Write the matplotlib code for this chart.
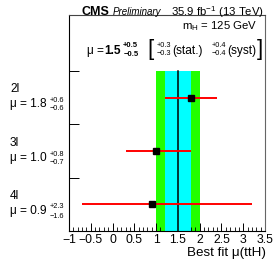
import matplotlib
matplotlib.use("Agg")
import matplotlib.pyplot as plt
from matplotlib.ticker import MultipleLocator

plt.rcParams['font.family'] = ['Liberation Sans', 'DejaVu Sans']
plt.rcParams['mathtext.fontset'] = 'custom'
plt.rcParams['mathtext.rm'] = 'Liberation Sans'
plt.rcParams['mathtext.it'] = 'Liberation Sans:italic'
plt.rcParams['mathtext.bf'] = 'Liberation Sans:bold'

# Data
categories = ["2l", "3l", "4l"]
mu_values = [1.8, 1.0, 0.9]
err_up = [0.6, 0.8, 2.3]
err_down = [0.6, 0.7, 1.6]
row_pos = [2.5, 1.5, 0.5]
combined_mu = 1.5
total_up, total_down = 0.5, 0.5
stat_up, stat_down = 0.3, 0.3
syst_up, syst_down = 0.4, 0.4
xticks = [-1, -0.5, 0, 0.5, 1, 1.5, 2, 2.5, 3, 3.5]
xtick_labels = ["\u22121", "\u22120.5", "0", "0.5", "1", "1.5", "2", "2.5", "3", "3.5"]

W, H = 277, 266
fig = plt.figure(figsize=(W / 100, H / 100), dpi=100)
L, R, T, B = 69, 265, 15, 231
ax = fig.add_axes([L / W, 1 - B / H, (R - L) / W, (B - T) / H])

ax.set_xlim(-1, 3.5)
ax.set_ylim(0, 4.05)

ax.fill_betweenx([0, 3], combined_mu - total_down, combined_mu + total_up,
                 color='#22ff00', lw=0, zorder=1)
ax.fill_betweenx([0, 3], combined_mu - stat_down, combined_mu + stat_up,
                 color='#00ffff', lw=0, zorder=2)
ax.plot([combined_mu, combined_mu], [0, 3], color='black', lw=1.1, zorder=3)

ax.errorbar(mu_values, row_pos, xerr=[err_down, err_up], fmt='s',
            color='black', ms=5, ecolor='#ff0000', elinewidth=1.4,
            capsize=0, zorder=5)

ax.set_xticks(xticks)
ax.set_xticklabels(xtick_labels)
ax.xaxis.set_minor_locator(MultipleLocator(0.1))
ax.tick_params(axis='x', which='major', direction='in', length=6, width=0.7,
               labelsize=8.8, pad=2, top=False)
ax.tick_params(axis='x', which='minor', direction='in', length=3, width=0.6, top=False)
ax.set_yticks([1, 2, 3])
ax.set_yticklabels([])
ax.tick_params(axis='y', which='major', direction='in', length=7, width=0.7, right=False)

for s in ax.spines.values():
    s.set_linewidth(0.8)
ax.spines['right'].set_color('#666666')
ax.spines['top'].set_color('#444444')

def fx(x):
    return x / W

def fy(y):
    return 1 - y / H

# x label
fig.text(fx(266), fy(253), "Best fit \u03bc(ttH)", ha='right', va='center', fontsize=9.6)

# header
fig.text(fx(82), fy(12), "CMS", fontsize=9, fontweight='bold', ha='left', va='center')
fig.text(fx(113), fy(12), "Preliminary", fontsize=7, style='italic', ha='left', va='center')
fig.text(fx(264), fy(12), r"35.9 fb$^{-1}$ (13 TeV)", fontsize=8.2, ha='right', va='center')
fig.text(fx(257), fy(26), r"m$_{\rm H}$ = 125 GeV", fontsize=8.2, ha='right', va='center')

# combined result
fig.text(fx(87), fy(51), "\u03bc =", fontsize=8.6, ha='left', va='center')
fig.text(fx(104), fy(51), "%.1f" % combined_mu, fontsize=8.6, fontweight='bold', ha='left', va='center')
fig.text(fx(123), fy(46), "+%.1f" % total_up, fontsize=5.5, fontweight='bold', ha='left', va='center')
fig.text(fx(124), fy(55), "\u2212%.1f" % total_down, fontsize=5.5, fontweight='bold', ha='left', va='center')
fig.text(fx(147), fy(50), "[", fontsize=16, ha='left', va='center', fontweight='light')
fig.text(fx(157), fy(46), "+%.1f" % stat_up, fontsize=5.3, ha='left', va='center')
fig.text(fx(157), fy(54), "\u2212%.1f" % stat_down, fontsize=5.3, ha='left', va='center')
fig.text(fx(172), fy(51), "(stat.)", fontsize=8.6, ha='left', va='center')
fig.text(fx(212), fy(46), "+%.1f" % syst_up, fontsize=5.3, ha='left', va='center')
fig.text(fx(212), fy(54), "\u2212%.1f" % syst_down, fontsize=5.3, ha='left', va='center')
fig.text(fx(227), fy(51), "(syst)", fontsize=8.6, ha='left', va='center')
fig.text(fx(257), fy(50), "]", fontsize=16, ha='left', va='center', fontweight='light')

# category labels
cat_y = [89, 143, 196]
for name, m, eu, ed, yy in zip(categories, mu_values, err_up, err_down, cat_y):
    fig.text(fx(10), fy(yy), name, fontsize=8.6, ha='left', va='center')
    fig.text(fx(10), fy(yy + 15), "\u03bc = %.1f" % m, fontsize=8.6, ha='left', va='center')
    fig.text(fx(50), fy(yy + 11), "+%.1f" % eu, fontsize=5.3, ha='left', va='center')
    fig.text(fx(50), fy(yy + 20), "\u2212%.1f" % ed, fontsize=5.3, ha='left', va='center')

fig.savefig("out.png", dpi=100)
